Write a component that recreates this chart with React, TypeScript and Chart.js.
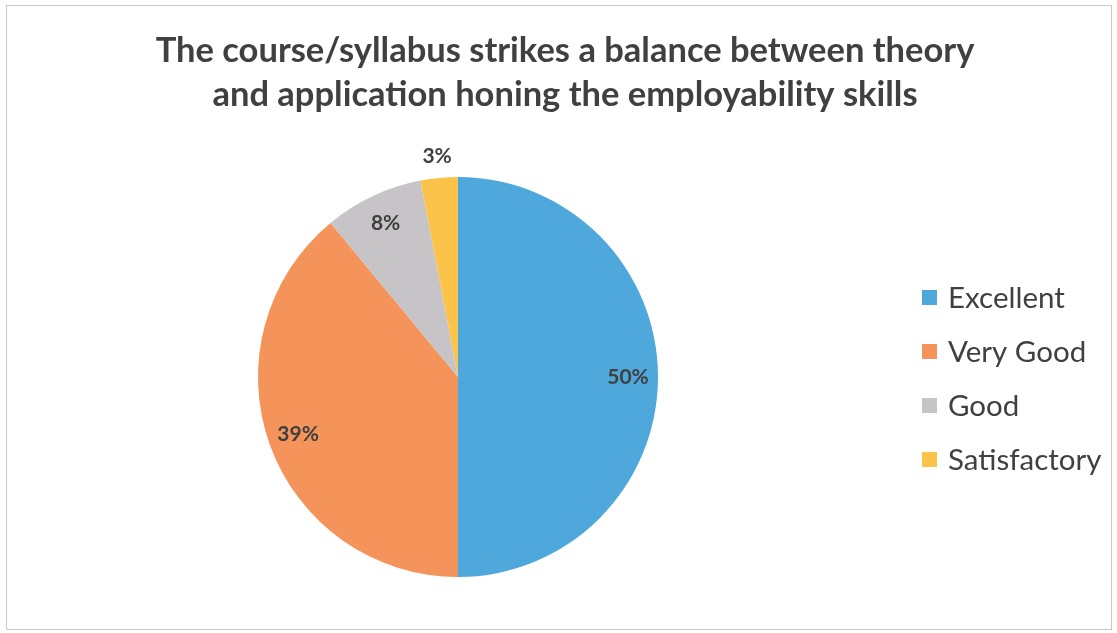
import React, { useEffect, useRef } from "react";
import { Chart, registerables } from "chart.js";

Chart.register(...registerables);

const categories = ["Excellent", "Very Good", "Good", "Satisfactory"];
const values = [50, 39, 8, 3];
const percentLabels = ["50%", "39%", "8%", "3%"];
const colors = ["#4ea8dc", "#f4935a", "#c6c4c6", "#fcc34a"];
const titleLines = [
  "The course/syllabus strikes a balance between theory",
  "and application honing the employability skills",
];

const W = 1117;
const H = 633;
const TEXT = "#404040";
const FONT = "Lato, 'Open Sans', sans-serif";

const framePlugin = {
  id: "frame",
  beforeDraw(chart: any) {
    const { ctx } = chart;
    ctx.save();
    ctx.fillStyle = "#ffffff";
    ctx.fillRect(0, 0, W, H);
    ctx.strokeStyle = "#c8c8c8";
    ctx.lineWidth = 1;
    ctx.strokeRect(6.5, 5.5, 1105, 624);
    // title
    ctx.fillStyle = TEXT;
    ctx.font = `bold 34.5px ${FONT}`;
    ctx.textAlign = "center";
    ctx.textBaseline = "middle";
    ctx.fillText(titleLines[0], 565, 51);
    ctx.fillText(titleLines[1], 565, 95);
    ctx.restore();
  },
  afterDraw(chart: any) {
    const { ctx } = chart;
    const meta = chart.getDatasetMeta(0);
    ctx.save();
    // percentage labels
    ctx.fillStyle = TEXT;
    ctx.font = `bold 21px ${FONT}`;
    ctx.textAlign = "center";
    ctx.textBaseline = "middle";
    const factors = [0.85, 0.85, 0.85, 1.11];
    meta.data.forEach((arc: any, i: number) => {
      const { x, y, startAngle, endAngle, outerRadius } = arc.getProps(
        ["x", "y", "startAngle", "endAngle", "outerRadius"],
        true
      );
      const mid = (startAngle + endAngle) / 2;
      const r = outerRadius * factors[i];
      ctx.fillText(percentLabels[i], x + Math.cos(mid) * r, y + Math.sin(mid) * r);
    });
    // legend
    ctx.font = `29.5px ${FONT}`;
    ctx.textAlign = "left";
    chart.data.labels.forEach((lab: string, i: number) => {
      const cy = 298 + i * 54;
      ctx.fillStyle = chart.data.datasets[0].backgroundColor[i];
      ctx.fillRect(922, cy - 8, 15, 15);
      ctx.fillStyle = TEXT;
      ctx.fillText(lab, 948, cy);
    });
    ctx.restore();
  },
};

export default function App() {
  const ref = useRef<HTMLCanvasElement | null>(null);
  useEffect(() => {
    document.body.style.margin = "0";
    const chart = new Chart(ref.current as HTMLCanvasElement, {
      type: "pie",
      data: {
        labels: categories,
        datasets: [
          {
            data: values,
            backgroundColor: colors,
            borderWidth: 0,
          },
        ],
      },
      options: {
        animation: false,
        responsive: false,
        layout: { padding: { left: 258, right: 459, top: 177, bottom: 56 } },
        plugins: {
          legend: { display: false },
          title: { display: false },
          tooltip: { enabled: false },
        },
      },
      plugins: [framePlugin],
    });
    return () => chart.destroy();
  }, []);
  return (
    <div style={{ position: "fixed", left: 0, top: 0, width: W, height: H }}>
      <canvas ref={ref} width={W} height={H} style={{ width: W, height: H }} />
    </div>
  );
}
